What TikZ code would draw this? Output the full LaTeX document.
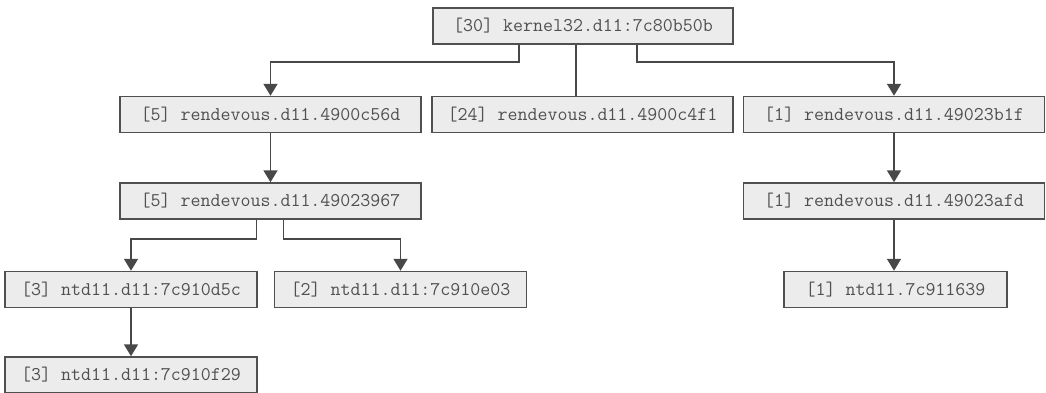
\documentclass[tikz,border=0pt]{standalone}
\usepackage{fontspec}
\usepackage{tikz}
\usetikzlibrary{shapes, arrows, arrows.meta}
\usetikzlibrary{positioning}
\definecolor{boxfill}{HTML}{ECECEC}
\definecolor{ink}{HTML}{505050}
\definecolor{wire}{HTML}{484848}
\tikzstyle{fn} = [rectangle, minimum width = 301, minimum height = 36,
  inner xsep = 0, draw = ink, fill = boxfill, line width = 1.5pt,
  text = ink, font = \ttfamily\fontsize{19.4}{22}\selectfont, text centered]
\tikzstyle{link} = [draw = wire, line width = 1.7pt,
  -{Triangle[length = 12pt, width = 14pt]}]
\tikzstyle{plain} = [draw = wire, line width = 1.7pt]

\begin{document}
\begin{tikzpicture}[node distance = 0]
    \useasboundingbox (0, 0) rectangle (1046pt, -392pt);
    \node [fn, minimum width = 300, xshift = 583, yshift = -26] (k32) {[30] kernel32.d11:7c80b50b};
    \node [fn, xshift = 270.5, yshift = -114.5] (r5a) {[5] rendevous.d11.4900c56d};
    \node [fn, xshift = 582.5, yshift = -114.5] (r24) {[24] rendevous.d11.4900c4f1};
    \node [fn, xshift = 894, yshift = -114.5] (r1a) {[1] rendevous.d11.49023b1f};
    \node [fn, xshift = 270.5, yshift = -201] (r5b) {[5] rendevous.d11.49023967};
    \node [fn, xshift = 894, yshift = -201] (r1b) {[1] rendevous.d11.49023afd};
    \node [fn, minimum width = 252, xshift = 131, yshift = -289.5] (n3a) {[3] ntd11.d11:7c910d5c};
    \node [fn, minimum width = 252, xshift = 400.5, yshift = -289.5] (n2) {[2] ntd11.d11:7c910e03};
    \node [fn, minimum width = 223, xshift = 895.5, yshift = -289.5] (n1) {[1] ntd11.7c911639};
    \node [fn, minimum width = 252, xshift = 131, yshift = -375] (n3b) {[3] ntd11.d11:7c910f29};
    % calls out of kernel32
    \draw [link] ([xshift = -64]k32.south) -- ++(0, -17pt) -| (r5a.north);
    \draw [plain] ([xshift = -7]k32.south) -- ([xshift = -7]k32.south |- r24.north);
    \draw [link] ([xshift = 54]k32.south) -- ++(0, -17pt) -| (r1a.north);
    % left branch
    \draw [link] (r5a) -- (r5b);
    \draw [link] ([xshift = -14]r5b.south) -- ++(0, -19pt) -| (n3a.north);
    \draw [link] ([xshift = 13]r5b.south) -- ++(0, -19pt) -| (n2.north);
    \draw [link] (n3a) -- (n3b);
    % right branch
    \draw [link] (r1a) -- (r1b);
    \draw [link] (r1b.south) -- (r1b.south |- n1.north);
  \end{tikzpicture}
\end{document}
